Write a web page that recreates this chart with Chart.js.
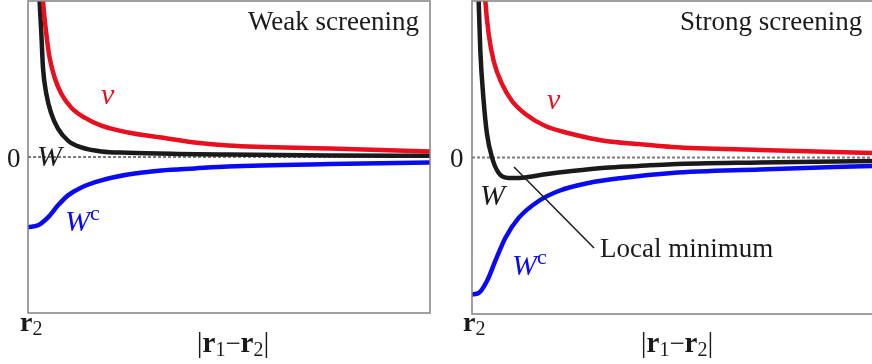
<!DOCTYPE html>
<html>
<head>
<meta charset="utf-8">
<script src="https://cdn.jsdelivr.net/npm/chart.js@4.4.0/dist/chart.umd.min.js"></script>
<style>
  html, body { margin: 0; padding: 0; background: #fff; overflow: hidden; }
  body { width: 872px; height: 364px; position: relative; }
  canvas { position: absolute; top: 0; }
  #weakChart { left: 0; }
  #strongChart { left: 440px; }
</style>
</head>
<body>
<canvas id="weakChart" width="440" height="364"></canvas>
<canvas id="strongChart" width="440" height="364"></canvas>
<script>
// Distance |r1 - r2| runs 0..10 (arbitrary units), potentials run -1..1.

// Weak screening
const weakVX  = [0.34, 0.373, 0.456, 0.539, 0.664, 0.829, 1.078, 1.410, 1.824, 2.488, 3.317, 4.146, 4.975, 7.51, 10];
const weakVY  = [1.15, 1.000, 0.789, 0.636, 0.508, 0.405, 0.316, 0.252, 0.201, 0.157, 0.125, 0.093, 0.073, 0.054, 0.035];
const weakWX  = [0.27, 0.290, 0.332, 0.373, 0.456, 0.580, 0.746, 0.995, 1.327, 1.824, 2.488, 3.731, 4.975, 7.51, 10];
const weakWY  = [1.15, 1.000, 0.789, 0.572, 0.405, 0.278, 0.182, 0.105, 0.061, 0.035, 0.027, 0.020, 0.016, 0.010, 0.008];
const weakWcX = [0, 0.249, 0.498, 0.746, 0.995, 1.327, 1.824, 2.488, 3.317, 4.146, 4.975, 7.51, 10];
const weakWcY = [-0.450, -0.438, -0.387, -0.310, -0.246, -0.195, -0.150, -0.112, -0.086, -0.073, -0.061, -0.045, -0.035];

// Strong screening
const strongVX  = [0.30, 0.332, 0.415, 0.539, 0.746, 0.995, 1.327, 1.824, 2.488, 3.317, 4.146, 4.975, 7.16, 9.95];
const strongVY  = [1.15, 1.000, 0.789, 0.617, 0.470, 0.361, 0.278, 0.201, 0.150, 0.105, 0.086, 0.067, 0.048, 0.029];
const strongWX  = [0.15, 0.166, 0.207, 0.290, 0.373, 0.498, 0.664, 0.912, 1.244, 1.824, 2.488, 3.317, 4.146, 4.975, 7.16, 9.95];
const strongWY  = [1.15, 1.000, 0.681, 0.361, 0.150, 0.000, -0.099, -0.131, -0.129, -0.107, -0.086, -0.065, -0.054, -0.043, -0.032, -0.022];
const strongWcX = [0, 0.166, 0.373, 0.580, 0.829, 1.161, 1.659, 2.156, 2.902, 3.731, 4.975, 7.16, 9.95];
const strongWcY = [-0.875, -0.866, -0.789, -0.661, -0.514, -0.386, -0.278, -0.214, -0.163, -0.131, -0.099, -0.077, -0.054];

const RED = '#e8101e';
const BLACK = '#1a1a1a';
const BLUE = '#0a0af0';
const SERIF = '"Liberation Serif", "DejaVu Serif", serif';

const toPoints = (xs, ys) => xs.map((x, i) => ({ x, y: ys[i] }));

const curve = (xs, ys, color) => ({
    data: toPoints(xs, ys),
    borderColor: color,
    borderWidth: 4.5,
    pointRadius: 0,
    cubicInterpolationMode: 'monotone',
    fill: false
});

// Draws a row of differently styled text pieces (for the little math labels)
const drawRuns = (ctx, x, y, runs, align) => {
    let total = 0;
    runs.forEach(r => { ctx.font = r.font; total += ctx.measureText(r.t).width; });
    let cx = align === 'center' ? x - total / 2 : x;
    ctx.textAlign = 'left';
    ctx.textBaseline = 'alphabetic';
    runs.forEach(r => {
        ctx.font = r.font;
        ctx.fillStyle = r.color || BLACK;
        ctx.fillText(r.t, cx, y + (r.dy || 0));
        cx += ctx.measureText(r.t).width;
    });
};

const panelDecor = {
    id: 'panelDecor',
    beforeDatasetsDraw(chart) {
        const { ctx, chartArea: a, scales } = chart;
        const y0 = scales.y.getPixelForValue(0);
        ctx.save();
        ctx.strokeStyle = '#7a7a7a';
        ctx.lineWidth = 2;
        ctx.setLineDash([3, 2]);
        ctx.beginPath();
        ctx.moveTo(a.left, y0);
        ctx.lineTo(a.right, y0);
        ctx.stroke();
        ctx.restore();
    },
    afterDraw(chart, args, opts) {
        const { ctx, chartArea: a } = chart;
        ctx.save();
        ctx.strokeStyle = '#808080';
        ctx.lineWidth = 1.5;
        ctx.strokeRect(a.left, a.top, a.right - a.left, a.bottom - a.top);
        (opts.leaders || []).forEach(l => {
            ctx.strokeStyle = BLACK;
            ctx.lineWidth = 1.5;
            ctx.beginPath();
            ctx.moveTo(l[0], l[1]);
            ctx.lineTo(l[2], l[3]);
            ctx.stroke();
        });
        (opts.labels || []).forEach(l => drawRuns(ctx, l.x, l.y, l.runs, l.align));
        ctx.restore();
    }
};

const originLabels = (ox) => [
    { x: 7 - ox, y: 167, runs: [{ t: '0', font: `27px ${SERIF}` }] },
    { x: 20 - ox, y: 331, runs: [
        { t: 'r', font: `bold 28px ${SERIF}` },
        { t: '2', font: `20px ${SERIF}`, dy: 4 }
    ] }
];

const distLabel = (cx) => ({
    x: cx, y: 352, align: 'center', runs: [
        { t: '|', font: `29px ${SERIF}` },
        { t: 'r', font: `bold 29px ${SERIF}` },
        { t: '1', font: `20px ${SERIF}`, dy: 4 },
        { t: '\u2212', font: `27px ${SERIF}` },
        { t: 'r', font: `bold 29px ${SERIF}` },
        { t: '2', font: `20px ${SERIF}`, dy: 4 },
        { t: '|', font: `29px ${SERIF}` }
    ]
});

const wcLabel = (x, y) => ({
    x, y, runs: [
        { t: 'W', font: `italic 30px ${SERIF}`, color: BLUE },
        { t: 'c', font: `22px ${SERIF}`, color: BLUE, dy: -11 }
    ]
});

const makePanel = (canvasId, sets, padding, labels, leaders) => new Chart(document.getElementById(canvasId), {
    type: 'line',
    data: { datasets: sets },
    options: {
        responsive: false,
        animation: false,
        devicePixelRatio: 1,
        layout: { padding },
        scales: {
            x: { type: 'linear', min: 0, max: 10, display: false },
            y: { type: 'linear', min: -1, max: 1, display: false }
        },
        plugins: {
            legend: { display: false },
            tooltip: { enabled: false },
            panelDecor: { labels, leaders }
        }
    },
    plugins: [panelDecor]
});

makePanel('weakChart', [
    curve(weakVX, weakVY, RED),
    curve(weakWcX, weakWcY, BLUE),
    curve(weakWX, weakWY, BLACK)
], { left: 28, right: 10, top: 1, bottom: 51 }, [
    { x: 248, y: 30, runs: [{ t: 'Weak screening', font: `27px ${SERIF}` }] },
    { x: 101, y: 104, runs: [{ t: 'v', font: `italic 30px ${SERIF}`, color: RED }] },
    { x: 37, y: 166, runs: [{ t: 'W', font: `italic 30px ${SERIF}` }] },
    wcLabel(65, 231),
    ...originLabels(0),
    distLabel(233)
], []);

makePanel('strongChart', [
    curve(strongVX, strongVY, RED),
    curve(strongWcX, strongWcY, BLUE),
    curve(strongWX, strongWY, BLACK)
], { left: 32, right: 6, top: 1, bottom: 50 }, [
    { x: 240, y: 30, runs: [{ t: 'Strong screening', font: `27px ${SERIF}` }] },
    { x: 107, y: 109, runs: [{ t: 'v', font: `italic 30px ${SERIF}`, color: RED }] },
    { x: 40, y: 205, runs: [{ t: 'W', font: `italic 30px ${SERIF}` }] },
    wcLabel(72, 275),
    { x: 160, y: 257, runs: [{ t: 'Local minimum', font: `27px ${SERIF}` }] },
    ...originLabels(440 - 443),
    distLabel(237)
], [[74, 167, 154, 248]]);
</script>
</body>
</html>
